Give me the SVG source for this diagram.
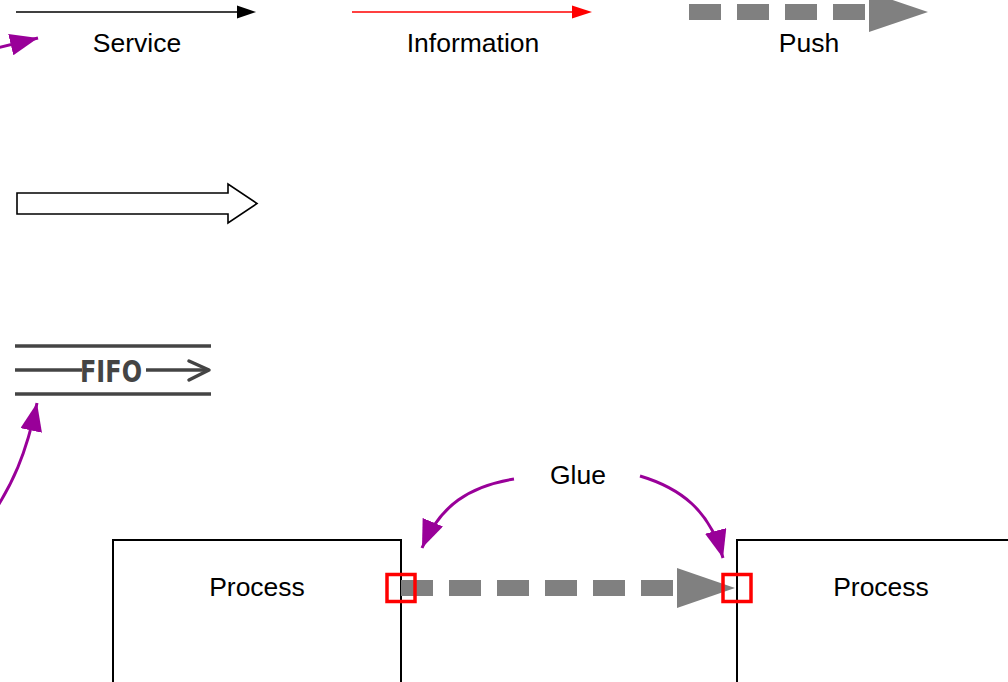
<svg xmlns="http://www.w3.org/2000/svg" width="1008" height="682" viewBox="0 0 1008 682">
  <style>
    .lbl { font-family: "Liberation Sans", Arial, sans-serif; font-size: 26.5px; fill: #000; text-anchor: middle; }
    .box { fill: #fff; stroke: #000; stroke-width: 2; }
    .push { stroke: #808080; stroke-width: 16; stroke-dasharray: 32 16; fill: none; }
    .pushhead { fill: #808080; }
    .glue { fill: none; stroke: #990099; stroke-width: 3; }
    .port { fill: none; stroke: #ff0000; stroke-width: 3.5; }
    .fifo { stroke: #444; stroke-width: 3.5; fill: none; }
  </style>
  <defs>
    <marker id="glueHead" markerUnits="userSpaceOnUse" markerWidth="30" markerHeight="22" refX="28" refY="11" orient="auto">
      <path d="M0,0 L28,11 L0,22 Z" fill="#990099"/>
    </marker>
  </defs>

  <rect width="1008" height="682" fill="#fff"/>

  <!-- legend: service -->
  <g id="legend-service">
    <line x1="16" y1="12" x2="240" y2="12" stroke="#000" stroke-width="1.6"/>
    <path d="M237,5.5 L256,12 L237,18.5 Z" fill="#000"/>
    <text class="lbl" x="137" y="52">Service</text>
  </g>

  <!-- legend: information -->
  <g id="legend-information">
    <line x1="352" y1="12" x2="576" y2="12" stroke="#ff0000" stroke-width="1.6"/>
    <path d="M572,5.5 L592,12 L572,18.5 Z" fill="#ff0000"/>
    <text class="lbl" x="473" y="52">Information</text>
  </g>

  <!-- legend: push -->
  <g id="legend-push">
    <line class="push" x1="689" y1="12" x2="865" y2="12"/>
    <path class="pushhead" d="M869,-8 L928,12 L869,32 Z"/>
    <text class="lbl" x="809" y="52">Push</text>
  </g>

  <!-- hollow block arrow -->
  <g id="block-arrow">
    <path d="M17,193 L228,193 L228,184 L257,203.5 L228,223 L228,214 L17,214 Z" fill="#fff" stroke="#000" stroke-width="1.6" stroke-linejoin="miter"/>
  </g>

  <!-- FIFO channel -->
  <g id="fifo">
    <line class="fifo" x1="15" y1="346" x2="211" y2="346"/>
    <line class="fifo" x1="15" y1="394" x2="211" y2="394"/>
    <line class="fifo" x1="15" y1="370" x2="82" y2="370"/>
    <line class="fifo" x1="146" y1="370" x2="209" y2="370"/>
    <path class="fifo" d="M189,361 L209,370 L189,380" stroke-linecap="round" stroke-linejoin="round"/>
    <text x="80" y="382" textLength="62" lengthAdjust="spacingAndGlyphs" font-family="'DejaVu Sans', sans-serif" font-size="31" font-weight="600" fill="#444">FIFO</text>
  </g>

  <!-- processes -->
  <g id="process-left">
    <rect class="box" x="113" y="540" width="288" height="160"/>
    <text class="lbl" x="257" y="596">Process</text>
  </g>
  <g id="process-right">
    <rect class="box" x="737" y="540" width="300" height="160"/>
    <text class="lbl" x="881" y="596">Process</text>
  </g>

  <g id="glue-label">
    <text class="lbl" x="578" y="484">Glue</text>
  </g>

  <!-- connectors -->
  <g id="connectors">
    <line class="push" x1="401" y1="588" x2="673" y2="588"/>
    <path class="pushhead" d="M677,568 L735,588 L677,608 Z"/>

    <path class="glue" d="M514,479 C470,486 440,505 422,548" marker-end="url(#glueHead)"/>
    <path class="glue" d="M640,476 C680,488 710,510 723,558" marker-end="url(#glueHead)"/>
    <path class="glue" d="M-20,52 L38,38" marker-end="url(#glueHead)"/>
    <path class="glue" d="M-8,515 C12,485 26,455 37,403" marker-end="url(#glueHead)"/>
  </g>

  <!-- ports -->
  <g id="ports">
    <rect class="port" x="387" y="574.5" width="28" height="27"/>
    <rect class="port" x="723" y="574.5" width="28" height="27"/>
  </g>
</svg>
